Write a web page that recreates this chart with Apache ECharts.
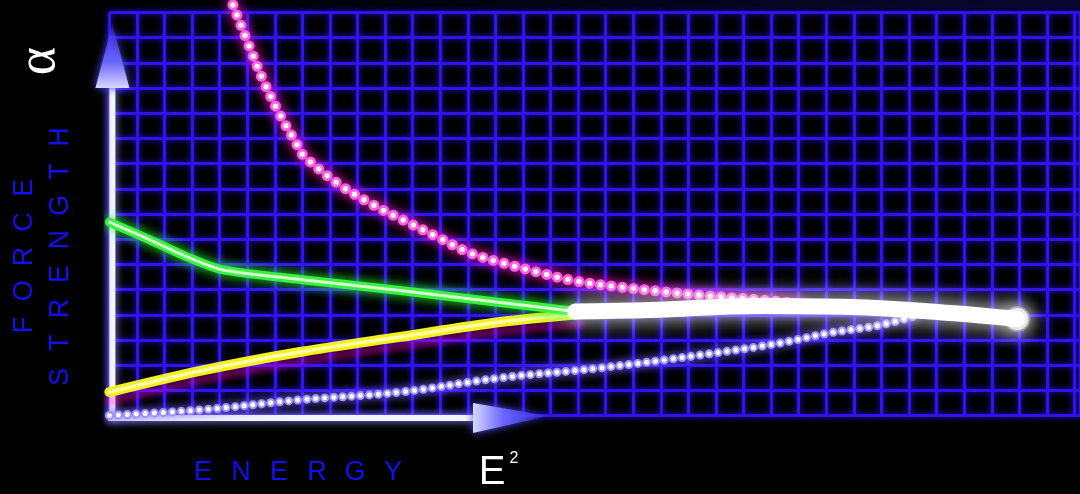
<!DOCTYPE html>
<html>
<head>
<meta charset="utf-8">
<script src="https://cdn.jsdelivr.net/npm/echarts@6/dist/echarts.min.js"></script>
<style>
  html, body { margin: 0; padding: 0; background: #000; }
  #chart { width: 1080px; height: 494px; }
</style>
</head>
<body>
<div id="chart"></div>
<script>
// 격자 단위: x = 에너지 칸, y = 힘 세기 칸
const xMax = 35.2;
const yMax = 16;

// 강한 상호작용 (분홍 점선)
const strongCurve = [
  [4.48, 16.30], [5.17, 14.39], [5.57, 13.32], [6.19, 11.93], [6.81, 10.74],
  [7.02, 10.34], [8.26, 9.23], [9.45, 8.43], [10.65, 7.76], [11.89, 7.09],
  [13.08, 6.45], [14.28, 6.05], [15.51, 5.70], [16.71, 5.38], [18.53, 5.10],
  [21.43, 4.78], [23.61, 4.59], [25.06, 4.43]
];
// 약한 상호작용 (초록)
const weakCurve = [
  [0, 7.68], [1.47, 6.97], [2.81, 6.30], [4.08, 5.79], [6.92, 5.40],
  [10.54, 4.96], [14.17, 4.49], [16.89, 4.13]
];
// 전자기 (노랑)
const emCurve = [
  [0, 0.93], [3.29, 1.77], [6.91, 2.52], [10.54, 3.12], [14.17, 3.71], [17.07, 4.03]
];
// 중력 (파랑 점선)
const gravityCurve = [
  [0, 0], [3.29, 0.22], [6.91, 0.62], [10.54, 0.93], [14.17, 1.49], [17.80, 1.89],
  [21.43, 2.40], [24.33, 2.88], [26.14, 3.28], [27.96, 3.59], [29.41, 4.03]
];
// 통합 (흰색)
const unifiedCurve = [
  [16.89, 4.13], [19.61, 4.19], [23.60, 4.35], [26.87, 4.31], [30.50, 4.07], [32.93, 3.83]
];
const unifiedPoint = [[32.93, 3.83]];

const yLabelTop = "FORCE";
const yLabelBottom = "STRENGTH";
const xLabel = "ENERGY";

const chart = echarts.init(document.getElementById("chart"), null, { renderer: "canvas" });

function lineSeries(data, style, smooth) {
  return {
    type: "line",
    data,
    smooth,
    showSymbol: false,
    clip: false,
    silent: true,
    lineStyle: style
  };
}

const gridLine = {
  color: "#3412f0",
  width: 3,
  shadowBlur: 6,
  shadowColor: "rgba(40,20,255,0.9)"
};

chart.setOption({
  backgroundColor: "#000",
  animation: false,
  grid: { left: 109.4, right: 0, top: 12.5, bottom: 78.5 },
  xAxis: {
    type: "value", min: 0, max: xMax, interval: 1,
    axisLine: { show: false }, axisTick: { show: false }, axisLabel: { show: false },
    splitLine: { show: true, lineStyle: gridLine }
  },
  yAxis: {
    type: "value", min: 0, max: yMax, interval: 1,
    axisLine: { show: false }, axisTick: { show: false }, axisLabel: { show: false },
    splitLine: { show: true, lineStyle: gridLine }
  },
  series: [
    lineSeries(gravityCurve, { width: 9, color: "#a090ff", type: [0, 9], cap: "round",
      shadowBlur: 10, shadowColor: "#7060ff" }, 0.4),
    lineSeries(gravityCurve, { width: 5, color: "#ffffff", type: [0, 9], cap: "round" }, 0.4),

    lineSeries(emCurve, { width: 10, color: "#f4f020", cap: "round",
      shadowBlur: 5, shadowOffsetY: 9, shadowColor: "rgba(255,0,200,0.35)" }, 0.3),
    lineSeries(emCurve, { width: 3.5, color: "#ffffa8", cap: "round" }, 0.3),

    lineSeries(weakCurve, { width: 9, color: "#38f040", cap: "round",
      shadowBlur: 12, shadowColor: "#22ff22" }, 0.25),
    lineSeries(weakCurve, { width: 3, color: "#d8ffd0", cap: "round" }, 0.25),

    lineSeries(strongCurve, { width: 11, color: "#ff60dc", type: [0, 11], cap: "round",
      shadowBlur: 12, shadowColor: "#ff10c8" }, 0.35),
    lineSeries(strongCurve, { width: 5.5, color: "#fff4f8", type: [0, 11], cap: "round" }, 0.35),

    lineSeries(unifiedCurve, { width: 16, color: "#ffffff", cap: "round",
      shadowBlur: 22, shadowColor: "rgba(255,255,255,0.95)" }, 0.4),
    {
      type: "scatter",
      data: unifiedPoint,
      symbolSize: 24,
      silent: true,
      itemStyle: { color: "#ffffff", borderColor: "#8a8a8a", borderWidth: 2,
        shadowBlur: 18, shadowColor: "#ffffff" }
    }
  ]
});

// 축 화살표와 라벨 (원점 기준으로 배치)
const origin = chart.convertToPixel({ gridIndex: 0 }, [0, 0]);
const ax = origin[0] + 3;
const ay = origin[1] + 2.5;

const axisStyle = { stroke: "#f4f4ff", lineWidth: 6, shadowBlur: 8, shadowColor: "#9090ff" };
const labelFont = "27px 'Liberation Sans', Arial, sans-serif";
const labelBlue = "#1010f0";

const graphics = [
  {
    type: "rect", silent: true,
    shape: { x: ax, y: 0, width: 1080 - ax, height: 8 },
    style: { fill: new echarts.graphic.LinearGradient(0, 0, 1, 0, [
      { offset: 0, color: "rgba(10,6,40,0)" }, { offset: 1, color: "rgba(10,6,48,1)" }]) }
  },
  { type: "line", silent: true, shape: { x1: ax, y1: ay + 2, x2: ax, y2: 88 }, style: axisStyle },
  { type: "line", silent: true, shape: { x1: ax - 4, y1: ay, x2: 474, y2: ay }, style: axisStyle },
  {
    type: "polygon", silent: true,
    shape: { points: [[ax - 17, 88], [ax + 17, 88], [ax, 24]] },
    style: { fill: new echarts.graphic.LinearGradient(0, 0, 0, 1, [
      { offset: 0, color: "rgba(70,60,255,0.3)" }, { offset: 0.6, color: "#6a66ff" },
      { offset: 1, color: "#d8d8ff" }]), shadowBlur: 8, shadowColor: "#5050ff" }
  },
  {
    type: "polygon", silent: true,
    shape: { points: [[473, ay - 15], [473, ay + 15], [548, ay - 2]] },
    style: { fill: new echarts.graphic.LinearGradient(0, 0, 1, 0, [
      { offset: 0, color: "#d8d8ff" }, { offset: 0.4, color: "#6a66ff" },
      { offset: 1, color: "rgba(70,60,255,0.3)" }]), shadowBlur: 8, shadowColor: "#5050ff" }
  },
  {
    type: "text", silent: true, x: 40, y: 61, rotation: Math.PI / 2,
    style: { text: "α", fill: "#ffffff", font: "54px 'Liberation Serif', 'DejaVu Serif', serif",
      align: "center", verticalAlign: "middle" }
  },
  {
    type: "text", silent: true, x: 492, y: 473,
    style: { text: "E", fill: "#ffffff", font: "40px 'Liberation Sans', Arial, sans-serif",
      align: "center", verticalAlign: "middle" }
  },
  {
    type: "text", silent: true, x: 514, y: 459,
    style: { text: "2", fill: "#ffffff", font: "16px 'Liberation Sans', Arial, sans-serif",
      align: "center", verticalAlign: "middle" }
  }
];

xLabel.split("").forEach((ch, i) => {
  graphics.push({
    type: "text", silent: true, x: 203 + i * 38, y: 473,
    style: { text: ch, fill: labelBlue, font: labelFont, align: "center", verticalAlign: "middle" }
  });
});
yLabelTop.split("").forEach((ch, i) => {
  graphics.push({
    type: "text", silent: true, x: 25, y: 325 - i * 34.3, rotation: Math.PI / 2,
    style: { text: ch, fill: labelBlue, font: labelFont, align: "center", verticalAlign: "middle" }
  });
});
yLabelBottom.split("").forEach((ch, i) => {
  graphics.push({
    type: "text", silent: true, x: 61, y: 377 - i * 34.3, rotation: Math.PI / 2,
    style: { text: ch, fill: labelBlue, font: labelFont, align: "center", verticalAlign: "middle" }
  });
});

chart.setOption({ graphic: graphics });
</script>
</body>
</html>
